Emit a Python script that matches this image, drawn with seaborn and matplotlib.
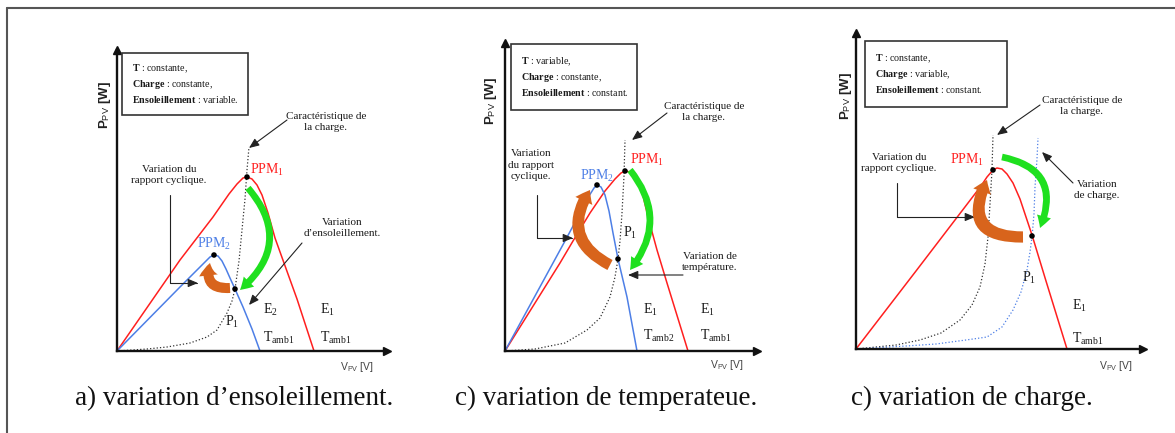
import matplotlib
matplotlib.use("Agg")
import matplotlib.pyplot as plt
import seaborn as sns
from matplotlib.patches import Rectangle, FancyArrowPatch
from matplotlib.lines import Line2D

# ------------------------------------------------------------------
# Data (arbitrary units, origin = (0, 0))
# ------------------------------------------------------------------
# Panel a : variation d'ensoleillement
a_red_v = [0, 63, 96, 112, 120, 126, 130, 135, 140, 145, 151, 158, 167, 180, 197]
a_red_p = [0, 91, 134, 157, 167, 173, 174, 172, 166, 156, 138, 113, 88, 52, 0]
a_blue_v = [0, 63, 80, 88, 93, 97, 101, 105, 109, 113, 118, 126, 135, 143]
a_blue_p = [0, 64, 81, 89, 94, 96, 95, 90, 82, 73, 62, 44, 22, 0]
a_load_v = [0, 30, 50, 73, 90, 100, 110, 115, 118, 122, 125, 128, 130, 132]
a_load_p = [0, 2, 4, 8, 14, 21, 38, 50, 62, 90, 121, 152, 181, 204]
a_pts_v = [130, 97, 118]          # PPM1, PPM2, P1
a_pts_p = [174, 96, 62]

# Panel b : variation de temperature
b_red_v = [0, 55, 68, 85, 100, 110, 116, 120, 125, 130, 135, 143, 152, 162, 183]
b_red_p = [0, 88, 110, 138, 160, 172, 178, 180, 179, 175, 168, 134, 101, 68, 0]
b_blue_v = [0, 30, 60, 75, 84, 89, 92, 96, 100, 104, 108, 113, 122, 132]
b_blue_p = [0, 55, 110, 138, 155, 163, 166, 164, 156, 140, 118, 92, 54, 0]
b_load_v = [0, 30, 60, 82, 95, 105, 110, 113, 115, 117, 119, 120]
b_load_p = [0, 2, 8, 21, 33, 54, 74, 92, 110, 138, 175, 211]
b_pts_v = [120, 92, 113]
b_pts_p = [180, 166, 92]

# Panel c : variation de charge
c_red_v = [0, 60, 125, 131, 137, 141, 146, 151, 157, 164, 170, 176, 190, 211]
c_red_p = [0, 78, 163, 172, 179, 181, 180, 175, 166, 150, 132, 114, 68, 0]
c_load1_v = [0, 40, 64, 85, 104, 116, 124, 129, 132, 134, 136, 137]
c_load1_p = [0, 4, 9, 16, 29, 44, 62, 85, 112, 145, 179, 214]
c_load2_v = [0, 50, 80, 110, 131, 146, 157, 165, 171, 174, 176, 178, 179, 181, 182]
c_load2_p = [0, 3, 5, 9, 12, 22, 39, 57, 79, 97, 112, 135, 162, 190, 211]
c_pts_v = [137, 176]
c_pts_p = [179, 113]

captions = ["a) variation d\u2019ensoleillement.",
            "c) variation de temperateue.",
            "c) variation de charge."]
box_texts = [
    "$\\mathbf{T}$ : constante,\n$\\mathbf{Charge}$ : constante,\n$\\mathbf{Ensoleillement}$ : variable.",
    "$\\mathbf{T}$ : variable,\n$\\mathbf{Charge}$ : constante,\n$\\mathbf{Ensoleillement}$ : constant.",
    "$\\mathbf{T}$ : constante,\n$\\mathbf{Charge}$ : variable,\n$\\mathbf{Ensoleillement}$ : constant.",
]

# ------------------------------------------------------------------
sns.set_theme(style="white")
plt.rcParams["font.family"] = ["Liberation Serif", "DejaVu Serif"]
plt.rcParams["mathtext.fontset"] = "custom"
plt.rcParams["mathtext.rm"] = "Liberation Serif"
plt.rcParams["mathtext.it"] = "Liberation Serif:italic"
plt.rcParams["mathtext.bf"] = "Liberation Serif:bold"
plt.rcParams["mathtext.sf"] = "Liberation Sans"

W, H = 1175, 433
fig = plt.figure(figsize=(W / 100, H / 100), dpi=100)
fig.patch.set_facecolor("white")

RED = "#ff1f1f"
BLUE = "#4d7fe6"
GREEN = "#1fe01f"
ORANGE = "#d8641c"
INK = "#1a1a1a"


def setup_axes(x0, y0, x1, yt):
    ax = fig.add_axes([x0 / W, (H - y0) / H, (x1 - x0) / W, (y0 - yt) / H])
    ax.set_xlim(0, x1 - x0)
    ax.set_ylim(0, y0 - yt)
    ax.set_facecolor("none")
    for s in ("top", "right"):
        ax.spines[s].set_visible(False)
    for s in ("left", "bottom"):
        ax.spines[s].set_linewidth(1.7)
        ax.spines[s].set_color("#111111")
    ax.set_xticks([])
    ax.set_yticks([])
    ax.plot(1, 0, ">", color="#111111", ms=6, transform=ax.transAxes, clip_on=False)
    ax.plot(0, 1, "^", color="#111111", ms=6, transform=ax.transAxes, clip_on=False)
    return ax


def arrow(ax, start, end, conn="arc3,rad=0"):
    ax.annotate("", xy=end, xytext=start, annotation_clip=False,
                arrowprops=dict(arrowstyle="-|>,head_length=0.6,head_width=0.25",
                                color="#222222", lw=0.8, shrinkA=0, shrinkB=0,
                                mutation_scale=10, connectionstyle=conn))


def bent(ax, start, end, rad, color, ms, tail=0.6, hw=1.3, hl=1.1):
    p = FancyArrowPatch(start, end, connectionstyle=f"arc3,rad={rad}",
                        arrowstyle=f"simple,head_length={hl},head_width={hw},tail_width={tail}",
                        mutation_scale=ms, color=color, lw=0, zorder=4,
                        shrinkA=0, shrinkB=0, clip_on=False)
    ax.add_patch(p)


def box(ax, x, y, w, h, text):
    ax.add_patch(Rectangle((x, y), w, h, fill=True, fc="white", ec="#333333",
                           lw=1.2, clip_on=False, zorder=3))
    ax.text(x + 10, y + h / 2, text, ha="left", va="center", fontsize=7.2,
            color=INK, linespacing=1.35, zorder=4)


def labels(ax, ylab_xy, xlab_xy):
    ax.text(*ylab_xy, "P$_{\\mathsf{PV}}$ [W]", rotation=90, ha="center", va="center",
            family="Liberation Sans", fontweight="bold", fontsize=9.5, color="#222222")
    ax.text(*xlab_xy, "V$_{\\mathsf{PV}}$ [V]", ha="center", va="center",
            family="Liberation Sans", fontsize=7.5, color="#444444")


def txt(ax, xy, s, size=8, color=INK, ha="center"):
    ax.text(*xy, s, ha=ha, va="center", fontsize=size, color=color, linespacing=1.3)


def curve(ax, v, p, color, lw=1.1, ls="-"):
    sns.lineplot(x=v, y=p, ax=ax, color=color, lw=lw, linestyle=ls,
                 sort=False, estimator=None, zorder=2)


def dots(ax, v, p):
    sns.scatterplot(x=v, y=p, ax=ax, color="black", s=16, edgecolor="none", zorder=6)


# ---------------- Panel a ----------------
ax = setup_axes(117, 351, 387, 50)
curve(ax, a_load_v, a_load_p, "#333333", lw=0.9, ls=":")
curve(ax, a_red_v, a_red_p, RED)
curve(ax, a_blue_v, a_blue_p, BLUE)
bent(ax, (131, 163), (123, 61), -0.5, GREEN, 8)
bent(ax, (113, 63), (93, 88), -0.7, ORANGE, 9, tail=0.8, hw=1.5, hl=1.0)
dots(ax, a_pts_v, a_pts_p)
box(ax, 5, 236, 126, 62, box_texts[0])
txt(ax, (209, 229), "Caractéristique de\nla charge.")
arrow(ax, (170, 231), (132, 203))
txt(ax, (52, 176), "Variation du\nrapport cyclique.")
arrow(ax, (53, 156), (81, 68), "angle,angleA=90,angleB=0,rad=0")
txt(ax, (225, 123), "Variation\nd\u2019ensoleillement.")
arrow(ax, (185, 108), (132, 46))
txt(ax, (133, 181), "PPM$_1$", 10, RED, "left")
txt(ax, (80, 107), "PPM$_2$", 10, BLUE, "left")
txt(ax, (108, 29), "P$_1$", 10, INK, "left")
txt(ax, (146, 41), "E$_2$", 10, INK, "left")
txt(ax, (203, 41), "E$_1$", 10, INK, "left")
txt(ax, (146, 13), "T$_{\\mathrm{amb1}}$", 10, INK, "left")
txt(ax, (203, 13), "T$_{\\mathrm{amb1}}$", 10, INK, "left")
labels(ax, (-12, 246), (240, -16))

# ---------------- Panel b ----------------
ax = setup_axes(505, 351, 757, 43)
curve(ax, b_load_v, b_load_p, "#333333", lw=0.9, ls=":")
curve(ax, b_red_v, b_red_p, RED)
curve(ax, b_blue_v, b_blue_p, BLUE)
bent(ax, (125, 181), (125, 81), -0.4, GREEN, 8)
bent(ax, (105, 86), (85, 161), -0.55, ORANGE, 9, tail=0.9, hw=1.5, hl=1.0)
dots(ax, b_pts_v, b_pts_p)
box(ax, 6, 241, 126, 66, box_texts[1])
txt(ax, (199, 239), "Caractéristique de\nla charge.")
arrow(ax, (162, 238), (127, 211))
txt(ax, (26, 186), "Variation\ndu rapport\ncyclique.")
arrow(ax, (32, 156), (68, 113), "angle,angleA=90,angleB=0,rad=0")
txt(ax, (205, 89), "Variation de\ntempérature.")
arrow(ax, (178, 76), (123, 76))
txt(ax, (125, 191), "PPM$_1$", 10, RED, "left")
txt(ax, (75, 175), "PPM$_2$", 10, BLUE, "left")
txt(ax, (118, 118), "P$_1$", 10, INK, "left")
txt(ax, (138, 41), "E$_1$", 10, INK, "left")
txt(ax, (195, 41), "E$_1$", 10, INK, "left")
txt(ax, (138, 15), "T$_{\\mathrm{amb2}}$", 10, INK, "left")
txt(ax, (195, 15), "T$_{\\mathrm{amb1}}$", 10, INK, "left")
labels(ax, (-14, 250), (222, -14))

# ---------------- Panel c ----------------
ax = setup_axes(856, 349, 1143, 33)
curve(ax, c_load1_v, c_load1_p, "#333333", lw=0.9, ls=":")
curve(ax, c_load2_v, c_load2_p, BLUE, lw=0.9, ls=":")
curve(ax, c_red_v, c_red_p, RED)
bent(ax, (146, 192), (184, 121), -0.6, GREEN, 8)
bent(ax, (167, 112), (131, 169), -0.8, ORANGE, 9, tail=0.9, hw=1.5, hl=1.0)
dots(ax, c_pts_v, c_pts_p)
box(ax, 9, 242, 142, 66, box_texts[2])
txt(ax, (226, 243), "Caractéristique de\nla charge.")
arrow(ax, (184, 244), (141, 214))
txt(ax, (43, 186), "Variation du\nrapport cyclique.")
arrow(ax, (41, 166), (119, 132), "angle,angleA=90,angleB=0,rad=0")
txt(ax, (241, 159), "Variation\nde charge.")
arrow(ax, (217, 166), (186, 197))
txt(ax, (94, 189), "PPM$_1$", 10, RED, "left")
txt(ax, (166, 71), "P$_1$", 10, INK, "left")
txt(ax, (216, 43), "E$_1$", 10, INK, "left")
txt(ax, (216, 10), "T$_{\\mathrm{amb1}}$", 10, INK, "left")
labels(ax, (-10, 253), (260, -17))

# ---------------- captions & frame ----------------
for cx, cap in zip([234, 606, 972], captions):
    fig.text(cx / W, 1 - 405 / H, cap, ha="center", va="baseline",
             fontsize=19.5, color="#111111")

fig.add_artist(Line2D([7 / W, 1], [1 - 8 / H, 1 - 8 / H], color="#555555", lw=1.5))
fig.add_artist(Line2D([7 / W, 7 / W], [0, 1 - 8 / H], color="#555555", lw=1.5))

fig.savefig("out.png", dpi=100, facecolor="white")
